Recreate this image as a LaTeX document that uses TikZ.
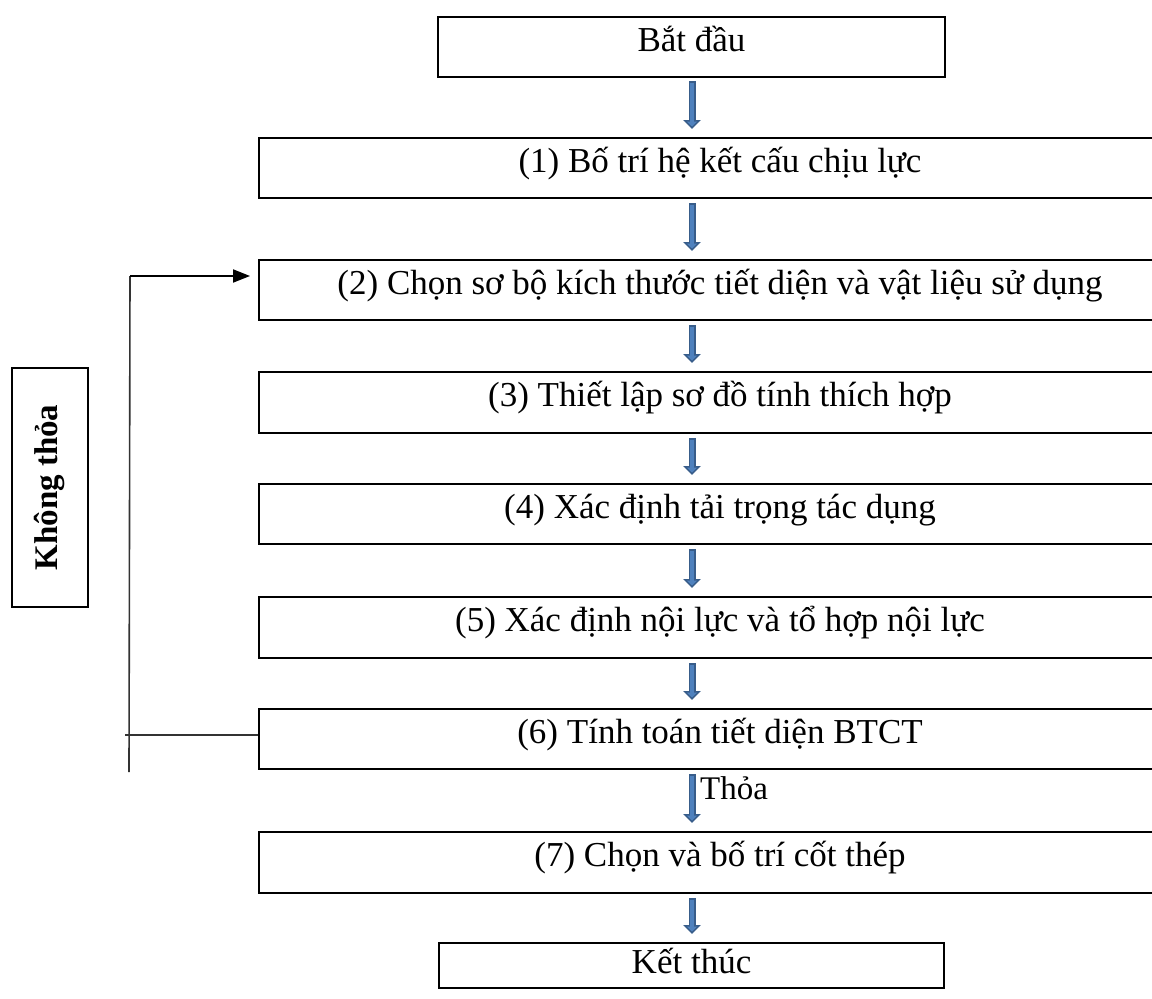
\documentclass[tikz,border=0pt]{standalone}
\usepackage{fontspec}
\setmainfont{Liberation Serif}
\usetikzlibrary{arrows.meta,calc}
\definecolor{arrdark}{HTML}{385D8A}
\definecolor{arrlight}{HTML}{4F81BD}
\tikzset{
  stepbox/.style={draw=black, line width=2pt, inner sep=0pt, rectangle,
    text height=34pt, text depth=26pt, font=\fontsize{35}{42}\selectfont},
  blockarrow/.style={line width=7pt, arrdark, -{Triangle[length=9pt,width=17pt]}},
  blockarrowin/.style={line width=3.5pt, arrlight, -{Triangle[length=5pt,width=10pt]}},
  fbline/.style={line width=1.6pt, black!80},
}
\newcommand{\blockarr}[2]{%
  \draw[blockarrow] #1 -- #2;
  \draw[blockarrowin, shorten <=1.5pt, shorten >=2.5pt] #1 -- #2;
}
\begin{document}
\begin{tikzpicture}[x=1pt,y=-1pt]
\useasboundingbox (0,0) rectangle (1152,999);
\clip (0,0) rectangle (1152,999);
\coordinate (ax) at (692,0);
% boxes
\node[stepbox, minimum width=507pt, minimum height=60pt] (start) at (691.5,47) {Bắt đầu};
\node[stepbox, minimum width=922pt, minimum height=60pt] (b1) at (720,168) {(1) Bố trí hệ kết cấu chịu lực};
\node[stepbox, minimum width=922pt, minimum height=60pt] (b2) at (720,290) {(2) Chọn sơ bộ kích thước tiết diện và vật liệu sử dụng};
\node[stepbox, minimum width=922pt, minimum height=61pt] (b3) at (720,402.5) {(3) Thiết lập sơ đồ tính thích hợp};
\node[stepbox, minimum width=922pt, minimum height=60pt] (b4) at (720,514) {(4) Xác định tải trọng tác dụng};
\node[stepbox, minimum width=922pt, minimum height=61pt] (b5) at (720,627.5) {(5) Xác định nội lực và tổ hợp nội lực};
\node[stepbox, minimum width=922pt, minimum height=60pt] (b6) at (720,739) {(6) Tính toán tiết diện BTCT};
\node[stepbox, minimum width=922pt, minimum height=61pt] (b7) at (720,862.5) {(7) Chọn và bố trí cốt thép};
\node[stepbox, minimum width=505pt, minimum height=45pt, text height=30pt, text depth=15pt] (end) at (691.5,965.5) {Kết thúc};
% arrows
\blockarr{($(ax |- start.south)+(0,3)$)}{($(ax |- b1.north)+(0,-8)$)}
\blockarr{($(ax |- b1.south)+(0,4)$)}{($(ax |- b2.north)+(0,-8)$)}
\blockarr{($(ax |- b2.south)+(0,4)$)}{($(ax |- b3.north)+(0,-8)$)}
\blockarr{($(ax |- b3.south)+(0,4)$)}{($(ax |- b4.north)+(0,-8)$)}
\blockarr{($(ax |- b4.south)+(0,4)$)}{($(ax |- b5.north)+(0,-8)$)}
\blockarr{($(ax |- b5.south)+(0,4)$)}{($(ax |- b6.north)+(0,-8)$)}
\blockarr{($(ax |- b6.south)+(0,4)$)}{($(ax |- b7.north)+(0,-8)$)}
\blockarr{($(ax |- b7.south)+(0,4)$)}{($(ax |- end.north)+(0,-8)$)}
\node[anchor=base west, inner sep=0pt, font=\fontsize{33}{40}\selectfont] (thoa) at (700,799) {Thỏa};
% feedback loop
\coordinate (fbtop) at (130,276);
\coordinate (fbbot) at (129,772);
\draw[fbline] (125,735) -- (b6.west |- 0,735);
\draw[fbline] (fbbot) -- (fbtop);
\draw[line width=2pt, -{Triangle[length=17pt,width=13pt]}] (fbtop) -- ($(b2.west |- fbtop)+(-8,0)$);
\node[draw=black, line width=2pt, rotate=90, minimum width=239pt, minimum height=76pt, inner sep=0pt,
  font=\bfseries\fontsize{33}{40}\selectfont] (label) at (50,487.5) {Không thỏa};
\end{tikzpicture}
\end{document}
